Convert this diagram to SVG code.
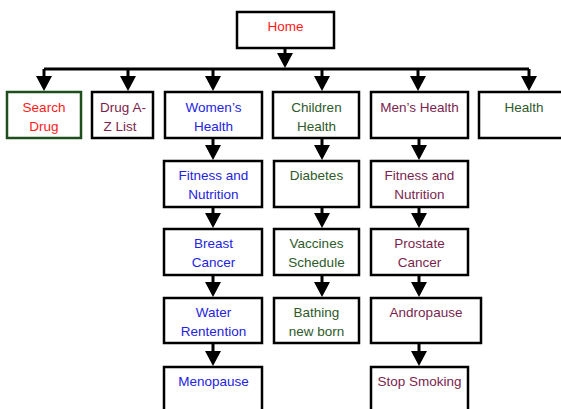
<svg xmlns="http://www.w3.org/2000/svg" width="561" height="409" viewBox="0 0 561 409">
<style>
.box{fill:#fff;stroke:#000;stroke-width:2.5}
.gbox{fill:#fff;stroke:#1e4d1e;stroke-width:2.5}
text{font-family:"Liberation Sans",Arial,sans-serif;font-size:13.5px;text-anchor:middle}
.red{fill:#ff1a1a}
.mag{fill:#7b1f4e}
.blue{fill:#2323e0}
.green{fill:#2e5a2a}
.conn line,.conn polyline{stroke:#000;stroke-width:3;fill:none}
</style>
<defs>
<marker id="ah" markerUnits="userSpaceOnUse" markerWidth="16" markerHeight="16" refX="8" refY="8" orient="auto" viewBox="0 0 16 16">
<path d="M0,0 L15,8 L0,16 z" fill="#000"/>
</marker>
</defs>
<rect width="561" height="409" fill="#fff"/>
<g id="connectors" class="conn">
<line x1="285" y1="48" x2="285" y2="61" marker-end="url(#ah)"/>
<line x1="44" y1="69" x2="529" y2="69"/>
<line x1="44" y1="69" x2="44" y2="84" marker-end="url(#ah)"/>
<line x1="128" y1="69" x2="128" y2="84" marker-end="url(#ah)"/>
<line x1="213" y1="69" x2="213" y2="84" marker-end="url(#ah)"/>
<line x1="322" y1="69" x2="322" y2="84" marker-end="url(#ah)"/>
<line x1="418" y1="69" x2="418" y2="84" marker-end="url(#ah)"/>
<line x1="529" y1="69" x2="529" y2="84" marker-end="url(#ah)"/>
<line x1="213" y1="138" x2="213" y2="153" marker-end="url(#ah)"/>
<line x1="213" y1="207" x2="213" y2="221" marker-end="url(#ah)"/>
<line x1="213" y1="275" x2="213" y2="290" marker-end="url(#ah)"/>
<line x1="213" y1="343" x2="213" y2="359" marker-end="url(#ah)"/>
<line x1="322" y1="138" x2="322" y2="153" marker-end="url(#ah)"/>
<line x1="322" y1="207" x2="322" y2="221" marker-end="url(#ah)"/>
<line x1="322" y1="275" x2="322" y2="290" marker-end="url(#ah)"/>
<line x1="419" y1="138" x2="419" y2="153" marker-end="url(#ah)"/>
<line x1="419" y1="207" x2="419" y2="221" marker-end="url(#ah)"/>
<line x1="419" y1="275" x2="419" y2="290" marker-end="url(#ah)"/>
<line x1="419" y1="343" x2="419" y2="359" marker-end="url(#ah)"/>
</g>
<g id="home"><rect class="box" x="237" y="12" width="97" height="36"/><text class="red" x="285.5" y="31">Home</text></g>
<g id="search-drug"><rect class="gbox" x="7" y="92" width="74" height="46"/><text class="red" x="44" y="112">Search</text><text class="red" x="44" y="131">Drug</text></g>
<g id="drug-az"><rect class="box" x="92" y="92" width="61" height="46"/><text class="mag" x="123" y="112">Drug A-</text><text class="mag" x="120" y="131">Z List</text></g>
<g id="womens-health"><rect class="box" x="165" y="92" width="97" height="46"/><text class="blue" x="213.5" y="112">Women’s</text><text class="blue" x="213.5" y="131">Health</text></g>
<g id="children-health"><rect class="box" x="273" y="92" width="86" height="46"/><text class="green" x="316.5" y="112">Children</text><text class="green" x="316.5" y="131">Health</text></g>
<g id="mens-health"><rect class="box" x="371" y="92" width="97" height="46"/><text class="mag" x="419.5" y="112">Men’s Health</text></g>
<g id="health"><rect class="box" x="479" y="92" width="92" height="46"/><text class="green" x="524" y="112">Health</text></g>
<g id="w-fitness"><rect class="box" x="164" y="161" width="98" height="46"/><text class="blue" x="213.5" y="180">Fitness and</text><text class="blue" x="213.5" y="199">Nutrition</text></g>
<g id="w-breast"><rect class="box" x="164" y="229" width="98" height="46"/><text class="blue" x="213.5" y="248">Breast</text><text class="blue" x="213.5" y="267">Cancer</text></g>
<g id="w-water"><rect class="box" x="164" y="298" width="98" height="45"/><text class="blue" x="213.5" y="317">Water</text><text class="blue" x="213.5" y="336">Rentention</text></g>
<g id="w-menopause"><rect class="box" x="164" y="367" width="98" height="60"/><text class="blue" x="213.5" y="386">Menopause</text></g>
<g id="c-diabetes"><rect class="box" x="274" y="161" width="85" height="46"/><text class="green" x="316.5" y="180">Diabetes</text></g>
<g id="c-vaccines"><rect class="box" x="274" y="229" width="85" height="46"/><text class="green" x="316.5" y="248">Vaccines</text><text class="green" x="316.5" y="267">Schedule</text></g>
<g id="c-bathing"><rect class="box" x="274" y="298" width="85" height="45"/><text class="green" x="316.5" y="317">Bathing</text><text class="green" x="316.5" y="336">new born</text></g>
<g id="m-fitness"><rect class="box" x="371" y="161" width="97" height="46"/><text class="mag" x="419.5" y="180">Fitness and</text><text class="mag" x="419.5" y="199">Nutrition</text></g>
<g id="m-prostate"><rect class="box" x="371" y="229" width="97" height="46"/><text class="mag" x="419.5" y="248">Prostate</text><text class="mag" x="419.5" y="267">Cancer</text></g>
<g id="m-andropause"><rect class="box" x="371" y="298" width="110" height="45"/><text class="mag" x="426" y="317">Andropause</text></g>
<g id="m-stop-smoking"><rect class="box" x="371" y="367" width="97" height="60"/><text class="mag" x="419.5" y="386">Stop Smoking</text></g>
</svg>
